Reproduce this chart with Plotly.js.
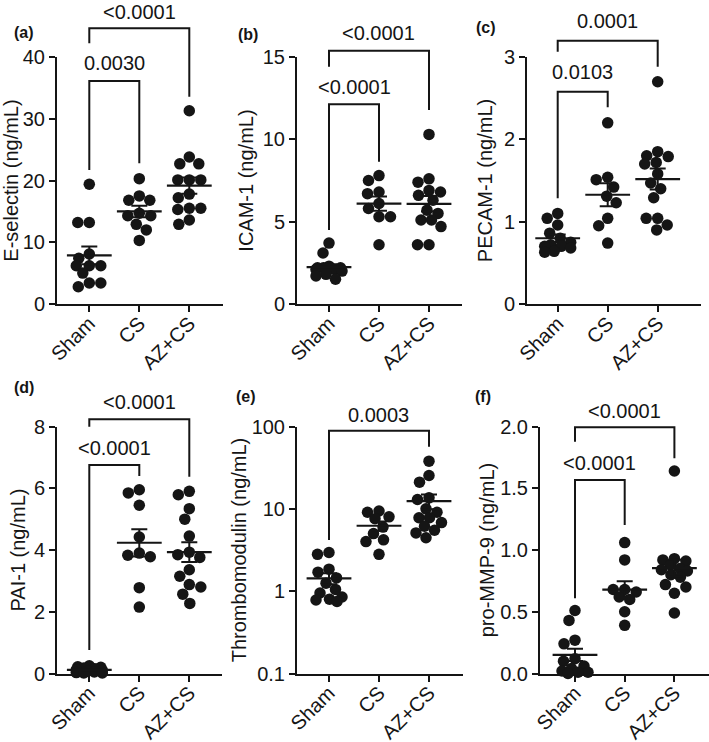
<!DOCTYPE html>
<html><head><meta charset="utf-8">
<script src="https://cdn.plot.ly/plotly-3.0.1.min.js"></script>
<style>html,body{margin:0;padding:0;background:#fff}</style>
</head><body><div id="chart" style="width:709px;height:742px"></div>
<script>
// ---------- data ----------
const groups = ['Sham', 'CS', 'AZ+CS'];

const eselSham = [19.4, 13.2, 13.2, 8.1, 7.4, 6.2, 6.2, 6.2, 5.0, 3.4, 3.4, 2.8];
const eselCS   = [20.3, 17.5, 16.8, 16.8, 14.7, 14.3, 14.3, 12.9, 12.0, 10.3];
const eselAZ   = [31.3, 23.8, 22.7, 22.7, 20.1, 20.1, 20.1, 17.8, 17.2, 15.5, 15.5, 15.3, 13.6, 12.9];

const icamSham = [3.7, 3.1, 2.3, 2.2, 2.2, 2.2, 2.1, 2.1, 2.0, 1.8, 1.7, 1.5];
const icamCS   = [7.8, 7.5, 6.8, 6.7, 6.1, 5.8, 5.3, 5.3, 3.6];
const icamAZ   = [10.3, 7.6, 7.4, 6.9, 6.8, 6.6, 6.3, 5.7, 5.5, 5.1, 5.1, 4.7, 3.6, 3.6];

const pecamSham = [1.10, 1.04, 0.96, 0.86, 0.80, 0.75, 0.72, 0.70, 0.70, 0.68, 0.64, 0.63];
const pecamCS   = [2.20, 1.54, 1.51, 1.42, 1.31, 1.23, 1.04, 0.95, 0.74];
const pecamAZ   = [2.70, 1.85, 1.80, 1.79, 1.72, 1.70, 1.58, 1.47, 1.40, 1.29, 1.04, 1.04, 0.96, 0.90];

const paiSham = [0.25, 0.22, 0.20, 0.18, 0.15, 0.12, 0.10, 0.08, 0.05, 0.03, 0.02, 0.02];
const paiCS   = [5.95, 5.85, 5.45, 4.42, 3.90, 3.83, 3.78, 2.78, 2.15];
const paiAZ   = [5.90, 5.79, 5.34, 5.00, 4.45, 3.93, 3.85, 3.76, 3.36, 3.15, 2.88, 2.80, 2.57, 2.27];

const thrSham = [2.95, 2.8, 1.85, 1.7, 1.45, 1.25, 1.05, 0.95, 0.85, 0.8, 0.78, 0.75];
const thrCS   = [9.4, 9.1, 8.0, 7.6, 6.0, 5.0, 4.2, 4.0, 2.8];
const thrAZ   = [37.9, 25.4, 21.1, 13.6, 13.0, 10.0, 9.1, 7.8, 7.8, 6.8, 6.15, 5.5, 5.1, 4.45];

const mmpSham = [0.51, 0.43, 0.27, 0.24, 0.12, 0.10, 0.06, 0.04, 0.02, 0.01, 0.01, 0.00];
const mmpCS   = [1.06, 0.92, 0.68, 0.68, 0.66, 0.62, 0.60, 0.50, 0.39];
const mmpAZ   = [1.64, 0.93, 0.92, 0.91, 0.88, 0.85, 0.84, 0.83, 0.80, 0.78, 0.72, 0.70, 0.65, 0.49];

const eselTicks  = [0, 10, 20, 30, 40];
const icamTicks  = [0, 5, 10, 15];
const pecamTicks = [0, 1, 2, 3];
const paiTicks   = [0, 2, 4, 6, 8];
const thrTicks   = [0.1, 1, 10, 100];
const thrTickText = ['0.1', '1', '10', '100'];
const mmpTicks   = [0, 0.5, 1.0, 1.5, 2.0];

const titles = ['E-selectin (ng/mL)', 'ICAM-1 (ng/mL)', 'PECAM-1 (ng/mL)',
                'PAI-1 (ng/mL)', 'Thrombomodulin (ng/mL)', 'pro-MMP-9 (ng/mL)'];
const labels = ['(a)', '(b)', '(c)', '(d)', '(e)', '(f)'];
const pvalA = ['<0.0001', '0.0030'];
const pvalB = ['<0.0001', '<0.0001'];
const pvalC = ['0.0001', '0.0103'];
const pvalD = ['<0.0001', '<0.0001'];
const pvalE = ['0.0003'];
const pvalF = ['<0.0001', '<0.0001'];

// ---------- layout geometry (pixels) ----------
const W = 709, H = 742;
const FONT = 'Liberation Sans, Arial, Helvetica, sans-serif';
const INK = '#151515';
const panels = [
  {data: [eselSham, eselCS, eselAZ], ticks: eselTicks, range: [0, 40], log: false, so: 4,
   box: {x0: 57, x1: 222.5, c0: 89.3, sp: 50, y0: 57, y1: 304}, lab: [24, 33],
   br: [[2, 28.3, 43.3, 96.7, 11.7], [1, 81, 170, 163.3, 63.3]], pv: pvalA},
  {data: [icamSham, icamCS, icamAZ], ticks: icamTicks, range: [0, 15], log: false, so: 4,
   box: {x0: 297, x1: 462, c0: 329, sp: 50, y0: 57, y1: 304}, lab: [247.5, 35],
   br: [[2, 50.7, 66.7, 110, 33.3], [1, 104.3, 230, 161.7, 86.7]], pv: pvalB},
  {data: [pecamSham, pecamCS, pecamAZ], ticks: pecamTicks, range: [0, 3], log: false, so: 6,
   box: {x0: 527, x1: 700.5, c0: 557.7, sp: 50, y0: 57, y1: 304}, lab: [486, 27],
   br: [[2, 40.7, 51.7, 66.7, 20.7], [1, 91.7, 198.3, 107.3, 71.7]], pv: pvalC},
  {data: [paiSham, paiCS, paiAZ], ticks: paiTicks, range: [0, 8], log: false, so: 3,
   box: {x0: 57, x1: 222, c0: 89.3, sp: 50, y0: 426.5, y1: 673.5}, lab: [24, 387],
   br: [[2, 419.3, 426.7, 476.7, 401.7], [1, 465, 650, 476, 448.3]], pv: pvalD},
  {data: [thrSham, thrCS, thrAZ], ticks: thrTicks, ticktext: thrTickText, range: [-1, 2], log: true, so: 0,
   box: {x0: 297, x1: 463, c0: 329, sp: 50, y0: 426.5, y1: 673.5}, lab: [246, 396],
   br: [[2, 430.7, 540, 446.7, 415]], pv: pvalE},
  {data: [mmpSham, mmpCS, mmpAZ], ticks: mmpTicks, range: [0, 2], log: false, fmt: '.1f', so: 0,
   box: {x0: 540, x1: 709, c0: 575, sp: 49.7, y0: 426.5, y1: 673.5}, lab: [483, 396],
   br: [[2, 427.3, 441.7, 458.3, 410.7], [1, 480, 598.3, 525, 463.3]], pv: pvalF}
];

const DOT = 11.5;
const MAXOFF = 13;

function swarm(vals, toPx) {
  const idx = vals.map((v, i) => i).sort((a, b) => vals[b] - vals[a]);
  const placed = [];
  const offs = new Array(vals.length).fill(0);
  for (const i of idx) {
    const py = toPx(vals[i]);
    let best = 0, bestCost = Infinity;
    for (let k = 0; k <= 4 * MAXOFF; k++) {
      const ox = Math.ceil(k / 2) * 0.5 * (k % 2 ? -1 : 1);
      let cost = 0;
      for (const p of placed) {
        const d = Math.hypot(ox - p.x, py - p.y);
        if (d < DOT) cost += (DOT - d) * (DOT - d);
      }
      cost += 0.004 * ox * ox;
      if (cost < bestCost - 1e-9) { bestCost = cost; best = ox; }
    }
    placed.push({x: best, y: py});
    offs[i] = best;
  }
  return offs;
}

function mean(a) { return a.reduce((s, v) => s + v, 0) / a.length; }
function sem(a) {
  const m = mean(a);
  const sd = Math.sqrt(a.reduce((s, v) => s + (v - m) * (v - m), 0) / (a.length - 1));
  return sd / Math.sqrt(a.length);
}

const traces = [];
const layout = {
  width: W, height: H, margin: {l: 0, r: 0, t: 0, b: 0},
  paper_bgcolor: '#fff', plot_bgcolor: 'rgba(0,0,0,0)',
  showlegend: false, font: {family: FONT, color: INK, size: 20},
  shapes: [], annotations: []
};
const px = x => x / W;
const py = y => 1 - y / H;

panels.forEach((p, n) => {
  const k = n + 1;
  const xa = 'xaxis' + (k === 1 ? '' : k), ya = 'yaxis' + (k === 1 ? '' : k);
  const xr = 'x' + (k === 1 ? '' : k), yr = 'y' + (k === 1 ? '' : k);
  const b = p.box;
  const xrange = [(b.x0 - b.c0) / b.sp, (b.x1 - b.c0) / b.sp];
  const yPxPerUnit = (b.y1 - b.y0) / (p.range[1] - p.range[0]);
  const toPx = v => (p.log ? Math.log10(Math.max(v, 1e-9)) : v) * yPxPerUnit;

  layout[xa] = {
    domain: [px(b.x0), px(b.x1)], range: xrange, anchor: yr, type: 'linear',
    tickmode: 'array', tickvals: [0, 1, 2], ticktext: groups, tickangle: -45,
    ticklabelstandoff: -8,
    showline: true, linewidth: 2, linecolor: INK, ticks: 'outside', ticklen: 6,
    tickwidth: 2, tickcolor: INK, showgrid: false, zeroline: false,
    tickfont: {size: 20, family: FONT, color: INK}, fixedrange: true
  };
  layout[ya] = {
    domain: [py(b.y1), py(b.y0)], range: p.range, anchor: xr,
    type: p.log ? 'log' : 'linear',
    tickmode: 'array', tickvals: p.ticks, ticktext: p.ticktext,
    tickformat: p.fmt, showline: true, linewidth: 2, linecolor: INK,
    ticks: 'outside', ticklen: 6, tickwidth: 2, tickcolor: INK,
    showgrid: false, zeroline: false,
    tickfont: {size: 20, family: FONT, color: INK},
    title: {text: titles[n], font: {size: 20, family: FONT, color: INK}, standoff: p.so},
    fixedrange: true
  };

  p.data.forEach((vals, g) => {
    const offs = swarm(vals, toPx);
    traces.push({
      type: 'scatter', mode: 'markers', xaxis: xr, yaxis: yr,
      x: vals.map((v, i) => g + offs[i] / b.sp), y: vals,
      marker: {size: DOT, color: INK, line: {width: 0}},
      cliponaxis: false, hoverinfo: 'skip'
    });
  });
  p.data.forEach((vals, g) => {
    traces.push({
      type: 'scatter', mode: 'markers', xaxis: xr, yaxis: yr,
      x: [g], y: [mean(vals)],
      marker: {symbol: 'line-ew-open', size: 32, line: {width: 2.2, color: INK}, color: INK},
      error_y: {type: 'data', array: [sem(vals)], visible: true, thickness: 2, width: 8, color: INK},
      cliponaxis: false, hoverinfo: 'skip'
    });
  });

  // significance brackets
  p.br.forEach((br, j) => {
    const [to, top, lEnd, rEnd, ty] = br;
    const xl = b.c0, xrt = b.c0 + to * b.sp;
    layout.shapes.push({
      type: 'path', xref: 'paper', yref: 'paper',
      path: `M ${px(xl)},${py(lEnd)} L ${px(xl)},${py(top)} L ${px(xrt)},${py(top)} L ${px(xrt)},${py(rEnd)}`,
      line: {color: INK, width: 2}
    });
    layout.annotations.push({
      xref: 'paper', yref: 'paper', x: px((xl + xrt) / 2), y: py(ty),
      text: p.pv[j].replace('<', '&lt;'), showarrow: false, xanchor: 'center', yanchor: 'middle',
      font: {size: 20, family: FONT, color: INK}
    });
  });

  layout.annotations.push({
    xref: 'paper', yref: 'paper', x: px(p.lab[0]), y: py(p.lab[1]),
    text: '<b>' + labels[n] + '</b>', showarrow: false, xanchor: 'center', yanchor: 'middle',
    font: {size: 16, family: FONT, color: INK}
  });
});

Plotly.newPlot('chart', traces, layout, {staticPlot: true, displayModeBar: false});
</script>
</body></html>
